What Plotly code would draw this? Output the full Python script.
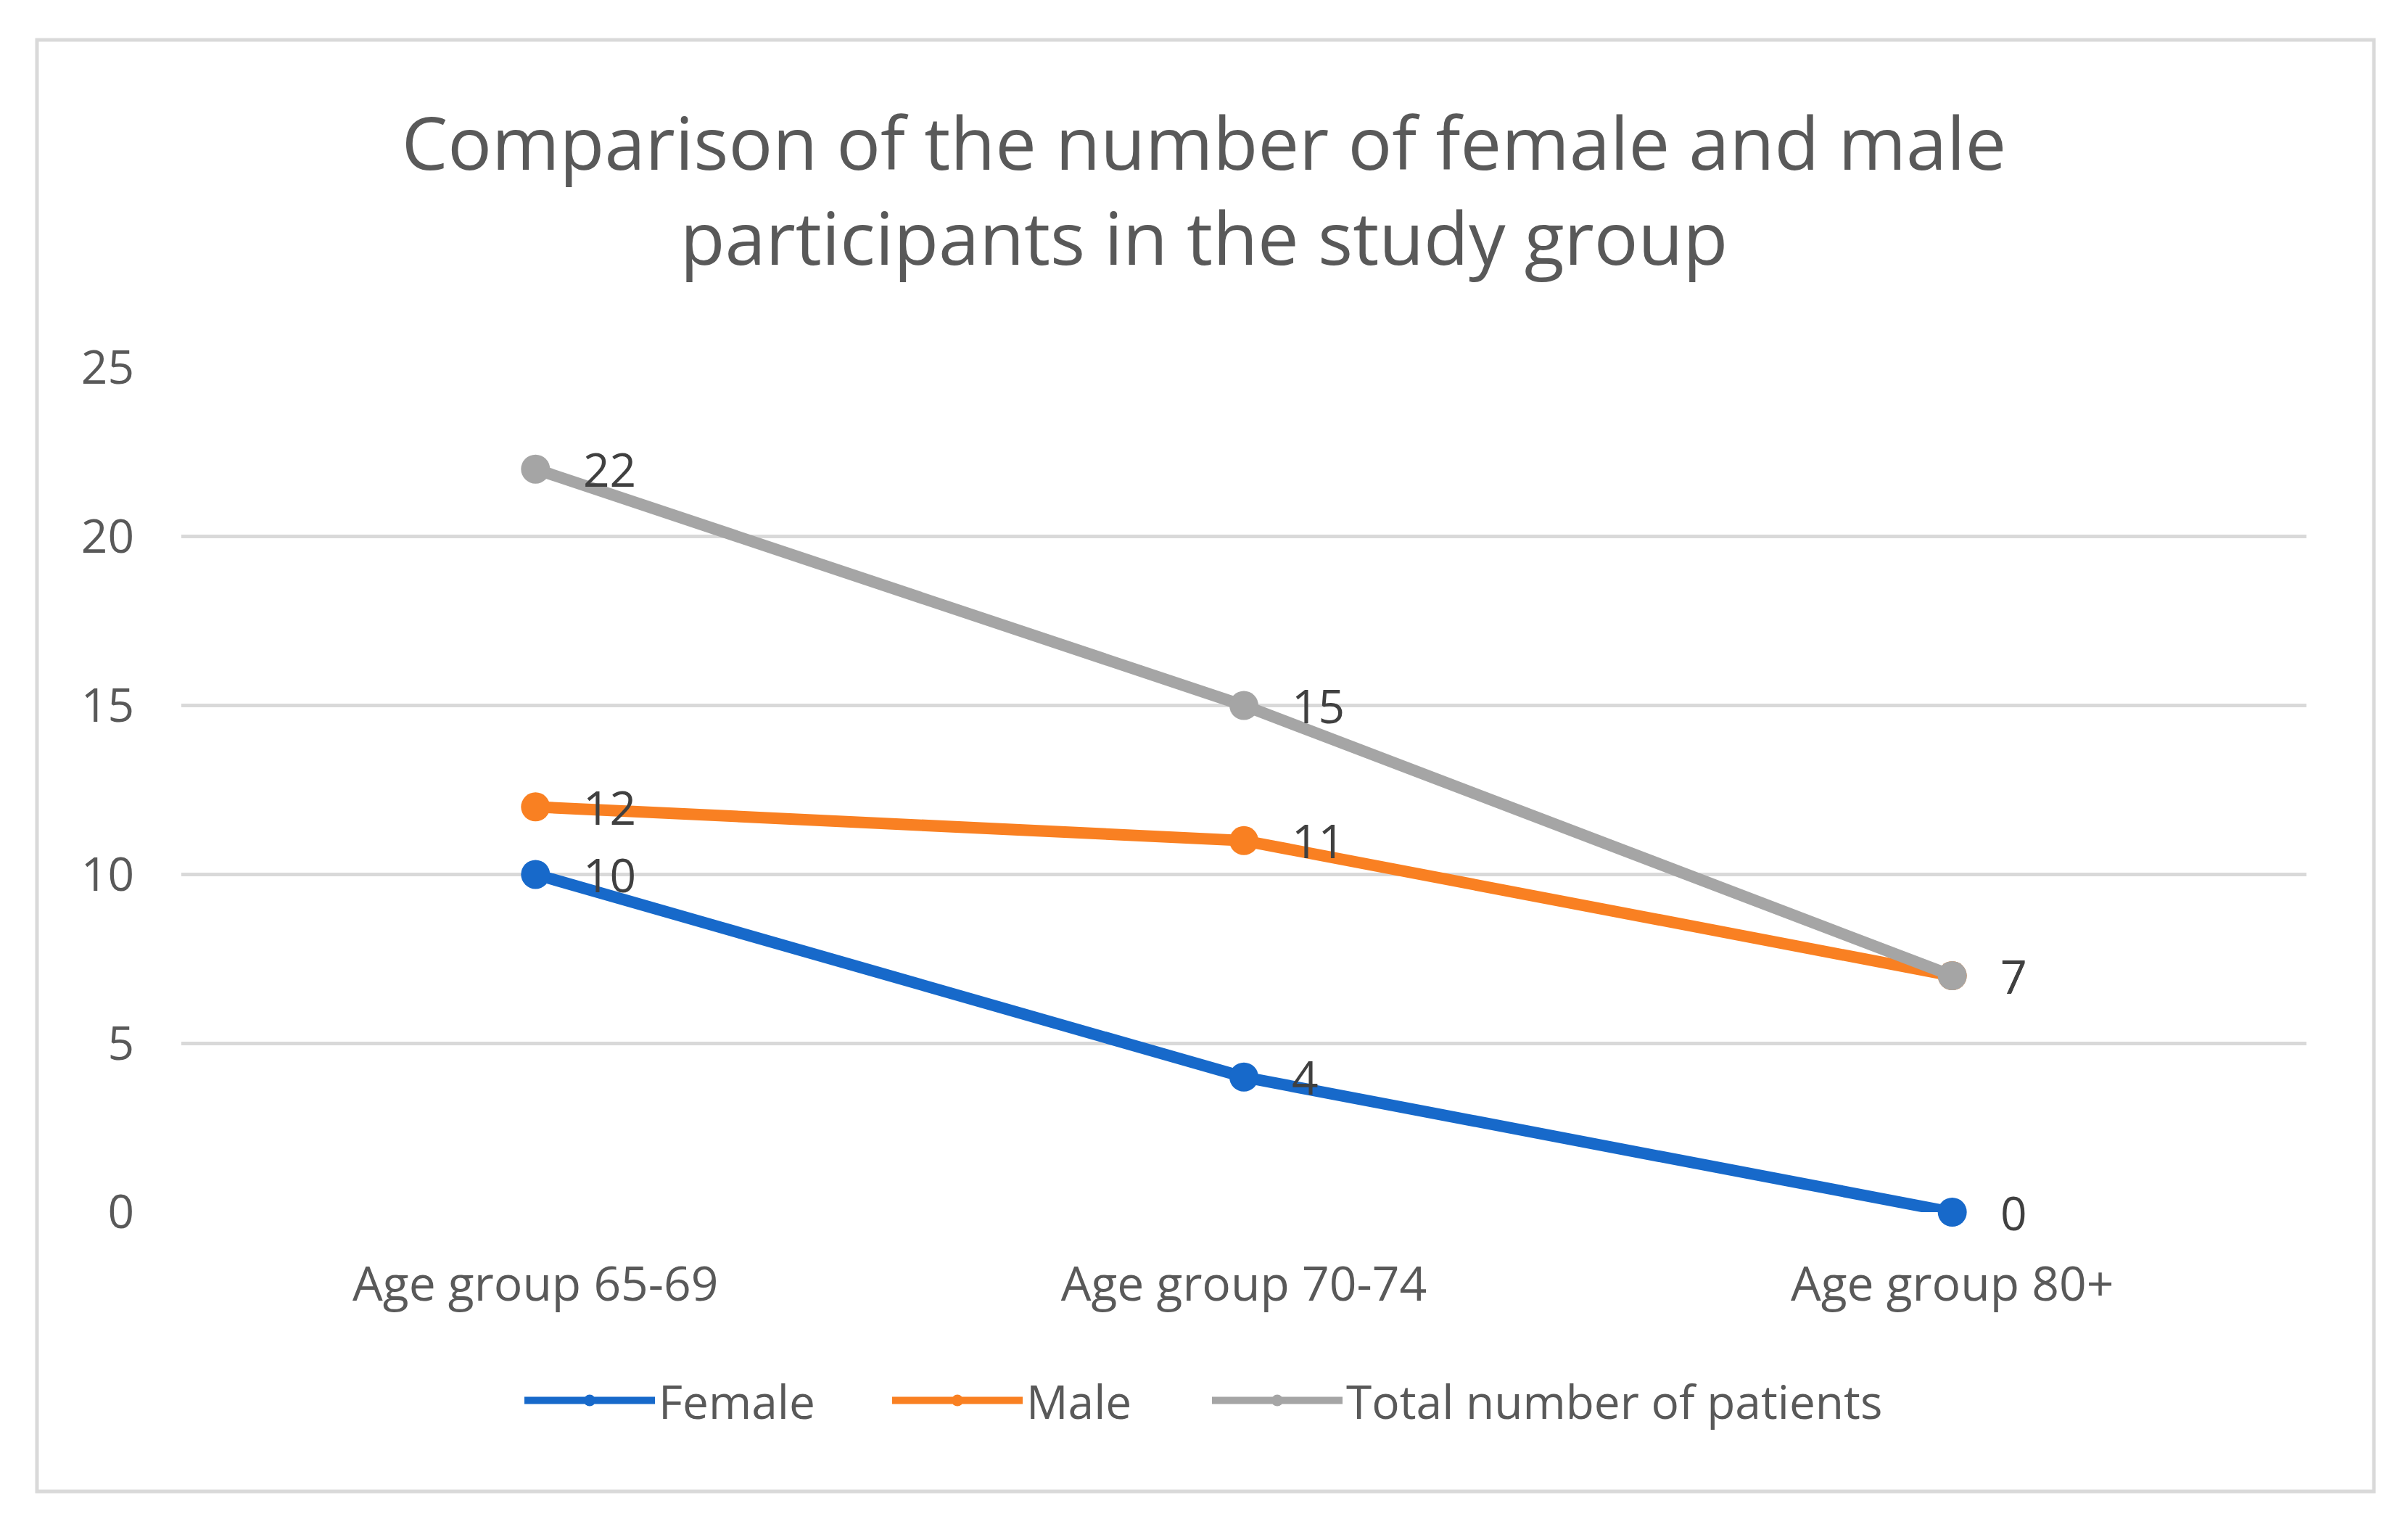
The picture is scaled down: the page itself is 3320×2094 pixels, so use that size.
import plotly.graph_objects as go

categories = ["Age group 65-69", "Age group 70-74", "Age group 80+"]
female = [10, 4, 0]
male = [12, 11, 7]
total = [22, 15, 7]
series_names = ["Female", "Male", "Total number of patients"]
series_colors = ["#1769CA", "#F98022", "#A5A5A5"]
y_ticks = [0, 5, 10, 15, 20, 25]
title_text = "Comparison of the number of female and male<br>participants in the study group"

W, H = 3320, 2094
L, R, T, B = 250, 140, 507, 423
FONT = "Open Sans"
pw = W - L - R
ph = H - T - B

legend_ids = ["legend", "legend2", "legend3"]
legend_left_px = [718, 1225, 1666]

fig = go.Figure()
for name, vals, col, lid in zip(series_names, [female, male, total], series_colors, legend_ids):
    fig.add_trace(go.Scatter(
        x=categories, y=vals, name=name, mode="lines+markers",
        line=dict(color=col, width=16),
        marker=dict(color=col, size=40),
        cliponaxis=False, legend=lid,
    ))
    for c, v in zip(categories, vals):
        fig.add_annotation(x=c, y=v, text=str(v), showarrow=False,
                           xanchor="left", yanchor="middle", xshift=64,
                           font=dict(family=FONT, size=64, color="#404040"))

bx0 = (51 - L) / pw
bx1 = (3273 - L) / pw
by1 = (H - B - 55) / ph
by0 = (H - B - 2056) / ph
fig.add_shape(type="rect", xref="paper", yref="paper", x0=bx0, x1=bx1, y0=by0, y1=by1,
              line=dict(color="#D9D9D9", width=5), layer="below")

legend_y = (H - B - 1931) / ph
legend_layout = {}
for lid, px in zip(legend_ids, legend_left_px):
    legend_layout[lid] = dict(
        orientation="h", x=(px - L) / pw, xanchor="left", y=legend_y, yanchor="middle",
        itemwidth=180, font=dict(family=FONT, size=64, color="#595959"),
        bgcolor="rgba(0,0,0,0)")

fig.update_layout(
    width=W, height=H,
    margin=dict(l=L, r=R, t=T, b=B, autoexpand=False),
    paper_bgcolor="white", plot_bgcolor="white",
    title=dict(text=title_text, x=0.5, xref="container", xanchor="center",
               y=1 - 234 / H, yref="container", yanchor="middle",
               font=dict(family=FONT, size=101, color="#595959")),
    xaxis=dict(type="category", range=[-0.5, 2.5], showgrid=False, zeroline=False,
               showline=False, ticks="", ticklabelstandoff=55,
               tickfont=dict(family=FONT, size=66, color="#595959")),
    yaxis=dict(range=[0, 25], tickvals=y_ticks, showgrid=True, gridcolor="#D9D9D9",
               gridwidth=5, zeroline=False, showline=False, ticks="",
               ticklabelstandoff=64,
               tickfont=dict(family=FONT, size=64, color="#595959")),
    showlegend=True,
    **legend_layout,
)

fig.write_html("out.html", config={"displayModeBar": False},
               post_script="document.body.style.margin='0';")
